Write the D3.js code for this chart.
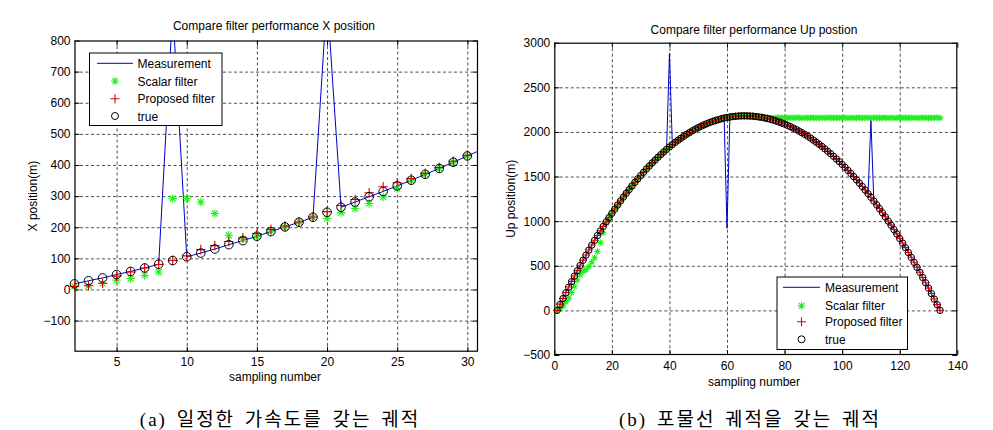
<!DOCTYPE html>
<html><head><meta charset="utf-8">
<script src="https://cdn.jsdelivr.net/npm/d3@7"></script>
<style>
body{margin:0;background:#fff;}
svg text{font-family:"Liberation Sans",Arial,sans-serif;fill:#000;}
</style>
</head><body>
<svg id="c" width="993" height="430"></svg>
<script>
// ---------- Panel (a): X position ----------
const sampleX = [2,3,4,5,6,7,8,9,10,11,12,13,14,15,16,17,18,19,20,21,22,23,24,25,26,27,28,29,30];
const measSampleX = [2,3,4,5,6,7,8,9,10,11,12,13,14,15,16,17,18,19,20,21,22,23,24,25,26,27,28,29,30,31];
const measX = [18,28,37,48,58,69,81,900,105,117,130,144,157,171,186,201,216,232,940,264,281,298,315,333,351,370,389,409,429,449];
const scalarX = [10,12,19,30,35,45,56,292,292,281,244,174,162,171,187,200,217,232,228,247,260,276,297,324,351,370,389,409,429];
const proposedX = [10,12,20,43,56,69,80,93,108,128,141,154,166,180,193,204,217,233,250,270,289,311,330,343,356,373,392,412,431];
const trueX = [18,28,37,48,58,69,81,93,105,117,130,144,157,171,186,201,216,232,248,264,281,298,315,333,351,370,389,409,429];
const xTicksA = [5,10,15,20,25,30];
const yTicksA = [-100,0,100,200,300,400,500,600,700,800];

// ---------- Panel (b): Up position ----------
const sampleUp = [1,2,3,4,5,6,7,8,9,10,11,12,13,14,15,16,17,18,19,20,21,22,23,24,25,26,27,28,29,30,
31,32,33,34,35,36,37,38,39,40,41,42,43,44,45,46,47,48,49,50,51,52,53,54,55,56,57,58,59,60,
61,62,63,64,65,66,67,68,69,70,71,72,73,74,75,76,77,78,79,80,81,82,83,84,85,86,87,88,89,90,
91,92,93,94,95,96,97,98,99,100,101,102,103,104,105,106,107,108,109,110,111,112,113,114,115,116,117,118,119,120,
121,122,123,124,125,126,127,128,129,130,131,132,133,134];
const trueUp = [0,66,132,197,260,322,384,444,504,562,619,675,731,785,838,890,941,991,1040,1088,
1135,1181,1226,1270,1313,1354,1395,1435,1474,1511,1548,1584,1618,1652,1684,1716,1746,1775,1804,1831,
1858,1883,1907,1930,1952,1974,1994,2013,2031,2048,2064,2079,2093,2106,2118,2128,2138,2147,2155,2161,
2167,2172,2175,2178,2180,2180,
2180,2178,2176,2172,2168,2163,2157,2150,2142,2133,2123,2112,2100,2088,2074,2059,2044,2027,2010,1991,
1972,1952,1931,1908,1885,1861,1836,1810,1783,1756,1727,1697,1667,1635,1603,1569,1535,1499,1463,1426,
1388,1348,1308,1267,1225,1182,1139,1094,1048,1001,954,905,856,805,754,702,648,594,539,483,
426,368,309,249,188,126,64,0];
const measUp = [0,66,132,197,260,322,384,444,504,562,619,675,731,785,838,890,941,991,1040,1088,
1135,1181,1226,1270,1313,1354,1395,1435,1474,1511,1548,1584,1618,1652,1684,1716,1746,1775,1804,2880,
1858,1883,1907,1930,1952,1974,1994,2013,2031,2048,2064,2079,2093,2106,2118,2128,2138,2147,2155,920,
2167,2172,2175,2178,2180,2180,
2180,2178,2176,2172,2168,2163,2157,2150,2142,2133,2123,2112,2100,2088,2074,2059,2044,2027,2010,1991,
1972,1952,1931,1908,1885,1861,1836,1810,1783,1756,1727,1697,1667,1635,1603,1569,1535,1499,1463,1426,
1388,1348,1308,2130,1225,1182,1139,1094,1048,1001,954,905,856,805,754,702,648,594,539,483,
426,368,309,249,188,126,64,0];
const scalarUp = [0,20,50,95,140,200,270,340,400,440,455,490,540,590,660,760,870,980,1040,1088,
1135,1181,1226,1270,1313,1354,1395,1435,1474,1511,1548,1584,1618,1652,1684,1716,1746,1775,1804,1831,
1858,1883,1907,1930,1952,1974,1994,2013,2031,2048,2064,2079,2093,2106,2118,2128,2138,2147,2155,2161,
2167,2172,2175,2178,2180,2180,
2180,2178,2176,2172,2168,2163,2160,2157,2159,2156,2158,2160,2157,2158,2156,2159,2157,2160,2158,2156,
2159,2157,2158,2160,2156,2158,2159,2157,2160,2158,2156,2159,2157,2158,2160,2157,2159,2156,2158,2160,
2157,2158,2159,2156,2160,2158,2157,2159,2158,2156,2160,2157,2158,2159,2157,2160,2156,2158,2159,2157,
2158,2160,2157,2159,2156,2158,2160,2157];
const proposedUp = [0,70,135,200,262,325,386,446,506,563,620,676,732,786,839,891,942,992,1041,1089,
1136,1182,1227,1271,1314,1355,1396,1436,1475,1512,1549,1585,1619,1653,1685,1717,1747,1776,1805,1832,
1859,1884,1908,1931,1953,1975,1995,2014,2032,2049,2065,2080,2094,2107,2119,2129,2139,2148,2156,2162,
2168,2173,2176,2179,2181,2181,
2181,2179,2177,2173,2169,2164,2158,2151,2143,2134,2124,2113,2101,2089,2075,2060,2045,2028,2011,1992,
1973,1953,1932,1909,1886,1862,1837,1811,1784,1757,1728,1698,1668,1636,1604,1570,1536,1500,1464,1427,
1389,1349,1309,1268,1226,1183,1140,1095,1049,1002,955,906,857,806,755,703,649,595,540,484,
427,369,310,250,189,127,65,2];
const xTicksB = [0,20,40,60,80,100,120,140];
const yTicksB = [-500,0,500,1000,1500,2000,2500,3000];

const legendLabels = ["Measurement","Scalar filter","Proposed filter","true"];

// ---------- colours ----------
const C_MEAS = "#0000cc", C_SCAL = "#22ee22", C_PROP = "#e00000", C_TRUE = "#000";

const svg = d3.select("#c");

function starPath(s){ const d=s*0.72; return `M${-s},0H${s}M0,${-s}V${s}M${-d},${-d}L${d},${d}M${-d},${d}L${d},${-d}`; }
function plusPath(s){ return `M${-s},0H${s}M0,${-s}V${s}`; }

function drawPanel(cfg){
  const g = svg.append("g");
  const x = d3.scaleLinear().domain(cfg.xDomain).range([cfg.L, cfg.R]);
  const y = d3.scaleLinear().domain(cfg.yDomain).range([cfg.B, cfg.T]);
  const clipId = "clip"+cfg.id;
  svg.append("defs").append("clipPath").attr("id",clipId).append("rect")
    .attr("x",cfg.L).attr("y",cfg.T).attr("width",cfg.R-cfg.L).attr("height",cfg.B-cfg.T);

  // grid
  const grid = g.append("g").attr("stroke","#222").attr("stroke-width",0.8).attr("stroke-dasharray","3,2.5");
  grid.selectAll("line.gx").data(cfg.xTicks.filter(t=>x(t)>cfg.L+1 && x(t)<cfg.R-1)).join("line")
    .attr("x1",d=>x(d)+0.5).attr("x2",d=>x(d)+0.5).attr("y1",cfg.T).attr("y2",cfg.B);
  grid.selectAll("line.gy").data(cfg.yTicks.filter(t=>y(t)>cfg.T+1 && y(t)<cfg.B-1)).join("line")
    .attr("y1",d=>y(d)+0.5).attr("y2",d=>y(d)+0.5).attr("x1",cfg.L).attr("x2",cfg.R);

  // axes
  const fmt = d3.format("d");
  const axB = d3.axisBottom(x).tickValues(cfg.xTicks).tickSize(-5).tickPadding(6).tickFormat(fmt);
  const axT = d3.axisTop(x).tickValues(cfg.xTicks).tickSize(-5).tickFormat("");
  const axL = d3.axisLeft(y).tickValues(cfg.yTicks).tickSize(-5).tickPadding(4).tickFormat(fmt);
  const axR = d3.axisRight(y).tickValues(cfg.yTicks).tickSize(-5).tickFormat("");
  const styleAx = sel => { sel.select(".domain").remove(); sel.selectAll("line").attr("stroke","#000");
    sel.selectAll("text").style("font-family",'"Liberation Sans",Arial,sans-serif').style("font-size","12px").attr("fill","#000"); };
  g.append("g").attr("transform",`translate(0,${cfg.B})`).call(axB).call(styleAx);
  g.append("g").attr("transform",`translate(0,${cfg.T})`).call(axT).call(styleAx);
  g.append("g").attr("transform",`translate(${cfg.L},0)`).call(axL).call(styleAx);
  g.append("g").attr("transform",`translate(${cfg.R},0)`).call(axR).call(styleAx);
  g.append("rect").attr("x",cfg.L+0.5).attr("y",cfg.T+0.5).attr("width",cfg.R-cfg.L-1).attr("height",cfg.B-cfg.T-1)
    .attr("fill","none").attr("stroke","#000").attr("stroke-width",1.2);

  // measurement line
  const line = d3.line().x(d=>x(d[0])).y(d=>y(d[1]));
  g.append("path").datum(d3.zip(cfg.measN, cfg.meas)).attr("clip-path",`url(#${clipId})`)
    .attr("d",line).attr("fill","none").attr("stroke",C_MEAS).attr("stroke-width",1);

  // markers
  const ms = cfg.ms;
  g.append("g").selectAll("path").data(d3.zip(cfg.n, cfg.scalar)).join("path")
    .attr("transform",d=>`translate(${x(d[0])},${y(d[1])})`).attr("d",starPath(ms.star))
    .attr("stroke",C_SCAL).attr("stroke-width",1.1).attr("fill","none");
  g.append("g").selectAll("path").data(d3.zip(cfg.n, cfg.prop)).join("path")
    .attr("transform",d=>`translate(${x(d[0])},${y(d[1])})`).attr("d",plusPath(ms.plus))
    .attr("stroke",C_PROP).attr("stroke-width",1.1).attr("fill","none");
  g.append("g").selectAll("circle").data(d3.zip(cfg.n, cfg.tru)).join("circle")
    .attr("cx",d=>x(d[0])).attr("cy",d=>y(d[1])).attr("r",ms.circ)
    .attr("stroke",C_TRUE).attr("stroke-width",1).attr("fill","none");

  // title and labels
  g.append("text").attr("x",cfg.titleX).attr("y",cfg.titleY).attr("text-anchor","middle")
    .style("font-size","12px").text(cfg.title);
  g.append("text").attr("x",cfg.xlabX).attr("y",cfg.xlabY).attr("text-anchor","middle")
    .style("font-size","12px").text("sampling number");
  g.append("text").attr("transform",`translate(${cfg.ylabX},${(cfg.T+cfg.B)/2}) rotate(-90)`)
    .attr("text-anchor","middle").style("font-size","12px").text(cfg.ylab);

  // legend
  const lg = cfg.leg;
  const lgG = g.append("g");
  lgG.append("rect").attr("x",lg.x+0.5).attr("y",lg.y+0.5).attr("width",lg.w).attr("height",lg.h)
    .attr("fill","#fff").attr("stroke","#000").attr("stroke-width",1);
  legendLabels.forEach((lab,i)=>{
    const cy = lg.rows[i];
    if(i===0){
      lgG.append("line").attr("x1",lg.lx1).attr("x2",lg.lx2).attr("y1",cy).attr("y2",cy)
        .attr("stroke",C_MEAS).attr("stroke-width",1);
    } else if(i===1){
      lgG.append("path").attr("transform",`translate(${lg.mx},${cy})`).attr("d",starPath(4))
        .attr("stroke",C_SCAL).attr("stroke-width",1.1).attr("fill","none");
    } else if(i===2){
      lgG.append("path").attr("transform",`translate(${lg.mx},${cy})`).attr("d",plusPath(4.5))
        .attr("stroke",C_PROP).attr("stroke-width",1.1).attr("fill","none");
    } else {
      lgG.append("circle").attr("cx",lg.mx).attr("cy",cy).attr("r",3.5)
        .attr("stroke","#000").attr("stroke-width",1).attr("fill","none");
    }
    lgG.append("text").attr("x",lg.tx).attr("y",cy+4.5).style("font-size","12px").text(lab);
  });

  // caption
  svg.append("text").attr("x",cfg.capX).attr("y",cfg.capY).attr("text-anchor","middle")
    .style("font-family",'"Liberation Serif","Noto Sans CJK KR",serif').style("font-size","19px")
    .style("letter-spacing","2px").style("word-spacing","3px").text(cfg.caption);
}

drawPanel({
  id:"a", L:74.5, R:478, T:40.5, B:351.7,
  xDomain:[2,30.76], yDomain:[-200,800], xTicks:xTicksA, yTicks:yTicksA,
  n:sampleX, measN:measSampleX, meas:measX, scalar:scalarX, prop:proposedX, tru:trueX,
  ms:{star:4.2, plus:4.8, circ:4.3},
  title:"Compare filter performance X position", titleX:274, titleY:30,
  xlabX:275, xlabY:381, ylab:"X position(m)", ylabX:37,
  leg:{x:89, y:52.5, w:132.5, h:72.5, rows:[63.3,81,98.7,116], lx1:97, lx2:133, mx:115, tx:137.5},
  caption:"(a) 일정한 가속도를 갖는 궤적", capX:280, capY:426
});
drawPanel({
  id:"b", L:554.3, R:957.3, T:42.7, B:355,
  xDomain:[0,140], yDomain:[-500,3000], xTicks:xTicksB, yTicks:yTicksB,
  n:sampleUp, measN:sampleUp, meas:measUp, scalar:scalarUp, prop:proposedUp, tru:trueUp,
  ms:{star:3.3, plus:3.6, circ:3.2},
  title:"Compare filter performance Up postion", titleX:754, titleY:34,
  xlabX:754, xlabY:386, ylab:"Up position(m)", ylabX:515,
  leg:{x:776.5, y:276.5, w:130.5, h:72.5, rows:[287.3,305.7,321.7,339.3], lx1:783, lx2:820, mx:801.5, tx:825},
  caption:"(b) 포물선 궤적을 갖는 궤적", capX:750, capY:426
});
</script>
</body></html>
